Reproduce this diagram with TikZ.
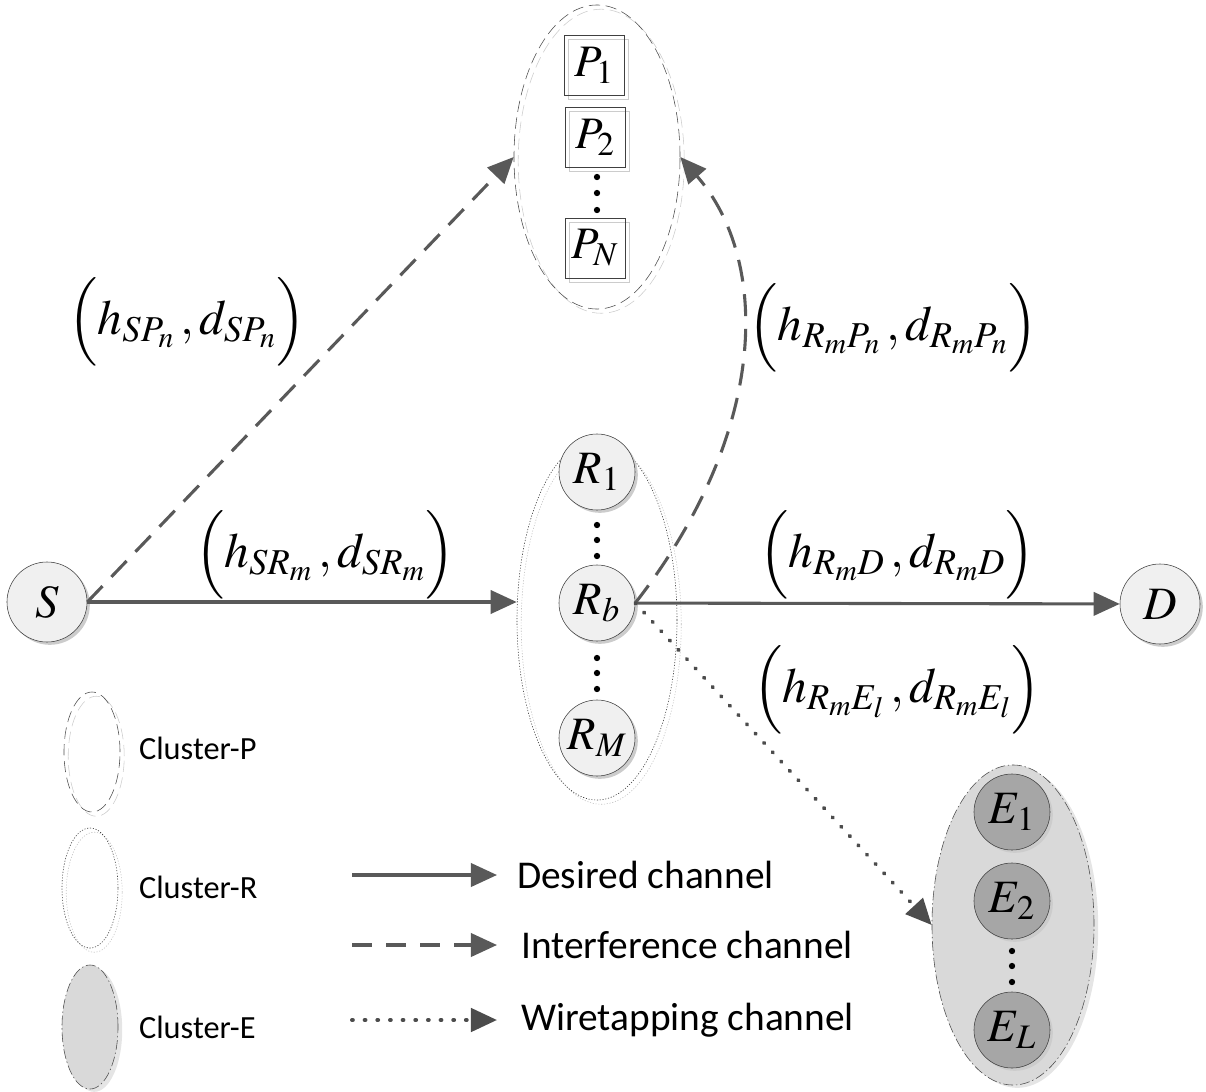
\documentclass[tikz,border=0pt]{standalone}
\usepackage{amsmath}
\usepackage{mathptmx}
\usepackage[no-math]{fontspec}
\setsansfont{Carlito}
\usepackage{xcolor}
\usetikzlibrary{positioning,arrows.meta,shapes.geometric,shadows}

\begin{document}
\begin{tikzpicture}[x=0.025cm, y=-0.025cm,
  >={Triangle[length=0.65cm, width=0.58cm]},
  chan/.style={line width=2.2pt, draw=black!65, color=black!65},
  desired/.style={chan, ->},
  interf/.style={chan, ->, dash pattern=on 0.55cm off 0.32cm},
  wiretap/.style={chan, ->, draw=black!70, line width=2.8pt, line cap=round, dash pattern=on 0.6pt off 8.4pt},
  usr/.style={circle, draw=black!75, fill=black!6, minimum size=1.9cm, inner sep=0pt,
    font=\fontsize{33}{38}\selectfont,
    drop shadow={shadow xshift=2pt, shadow yshift=-2pt, fill=black!20, opacity=1}},
  eve/.style={usr, fill=black!35},
  pbox/.style={rectangle, draw=black!75, minimum size=1.5cm, inner sep=0pt,
    font=\fontsize{32}{38}\selectfont,
    copy shadow={shadow xshift=3pt, shadow yshift=-3pt, draw=black!20, fill=none, opacity=1}},
  clusterP/.style={ellipse, draw=black!70, dash pattern=on 8pt off 4pt,
    copy shadow={shadow xshift=3pt, shadow yshift=-3pt, draw=black!20, fill=none, opacity=1}},
  clusterR/.style={ellipse, draw=black!80, dash pattern=on 0.8pt off 1.2pt,
    copy shadow={shadow xshift=3pt, shadow yshift=-3pt, draw=black!25, fill=none, opacity=1}},
  clusterE/.style={ellipse, fill=black!15, draw=black!70, dash pattern=on 7pt off 2pt on 1pt off 2pt,
    drop shadow={shadow xshift=3pt, shadow yshift=-2pt, fill=black!10, opacity=1}},
  lbl/.style={font=\fontsize{35}{40}\selectfont},
  legtxt/.style={anchor=west, inner sep=2pt, font=\sffamily\fontsize{28}{32}\selectfont},
  cltxt/.style={anchor=west, inner sep=2pt, font=\sffamily\fontsize{23}{26}\selectfont},
  dot/.style={fill=black, draw=none, circle, inner sep=0pt, minimum size=4.5pt}
]
\useasboundingbox (0,0) rectangle (1206,1092);

% clusters
\node[clusterP, minimum width=4.15cm, minimum height=7.6cm] (Pset) at (597,157) {};
\node[clusterR, minimum width=4.0cm, minimum height=9cm] (Rset) at (597,620) {};
\node[clusterE, minimum width=4.05cm, minimum height=8cm] (Eset) at (1013,925) {};

% primary users
\node[pbox] (P1) at (594,65) {$P_1$};
\node[pbox] (P2) at (595,137) {$P_2$};
\node[pbox] (PN) at (595,248) {$P_N$};

% source, relays, destination
\node[usr, minimum size=2cm] (S) at (47,602) {$S$};
\node[usr, minimum size=2cm] (D) at (1160,604) {$D$};
\node[usr] (R1) at (597,472) {$R_1$};
\node[usr] (Rb) at (597,603) {$R_b$};
\node[usr] (RM) at (597,738) {$R_M$};

% eavesdroppers
\node[eve] (E1) at (1012,812) {$E_1$};
\node[eve] (E2) at (1012,901) {$E_2$};
\node[eve] (EL) at (1012,1030) {$E_L$};

% vertical dots
\foreach \y in {177,193,210,525,540,556,658,673,689}
  \node[dot] at (597,\y) {};
\foreach \y in {951,966,982}
  \node[dot] at (1012,\y) {};

% channels
\draw[desired] (S.east) -- (S -| Rset.west);
\draw[desired] (Rb) -- (D);
\draw[interf] (S.east) -- (Pset.west);
\draw[interf] (Rb.east) .. controls (770,430) and (770,260) .. (Pset.east);
\draw[wiretap] (Rb.east) -- (Eset.west);

% channel labels
\node[lbl] (lSP) at (187,322) {$\Bigl(h_{SP_n}\,,d_{SP_n}\Bigr)$};
\node[lbl] (lSR) at (325,555) {$\Bigl(h_{SR_m}\,,d_{SR_m}\Bigr)$};
\node[lbl] (lRP) at (893,328) {$\Bigl(h_{R_mP_n}\,,d_{R_mP_n}\Bigr)$};
\node[lbl] (lRD) at (897,555) {$\Bigl(h_{R_mD}\,,d_{R_mD}\Bigr)$};
\node[lbl] (lRE) at (897,690) {$\Bigl(h_{R_mE_l}\,,d_{R_mE_l}\Bigr)$};

% legend: clusters
\node[clusterP, minimum width=1.4cm, minimum height=3cm] (legP) at (92,752) {};
\node[cltxt] (legPtxt) at (136,748) {Cluster-P};
\node[clusterR, minimum width=1.4cm, minimum height=3cm] (legR) at (90,888) {};
\node[cltxt] (legRtxt) at (136,887) {Cluster-R};
\node[clusterE, minimum width=1.4cm, minimum height=3.1cm] (legE) at (90,1027) {};
\node[cltxt] (legEtxt) at (136,1027) {Cluster-E};

% legend: channels
\coordinate (dA) at (352,875);  \coordinate (dB) at (497,875);
\coordinate (iA) at (352,945);  \coordinate (iB) at (497,945);
\coordinate (wA) at (352,1020); \coordinate (wB) at (497,1020);
\draw[desired] (dA) -- (dB);
\draw[interf, dash pattern=on 0.5cm off 0.35cm] (iA) -- (iB);
\draw[wiretap] (wA) -- (wB);
\node[legtxt] (dT) at (514,875) {Desired channel};
\node[legtxt] (iT) at (518,945) {Interference channel};
\node[legtxt] (wT) at (518,1020) {Wiretapping channel};
\end{tikzpicture}
\end{document}
